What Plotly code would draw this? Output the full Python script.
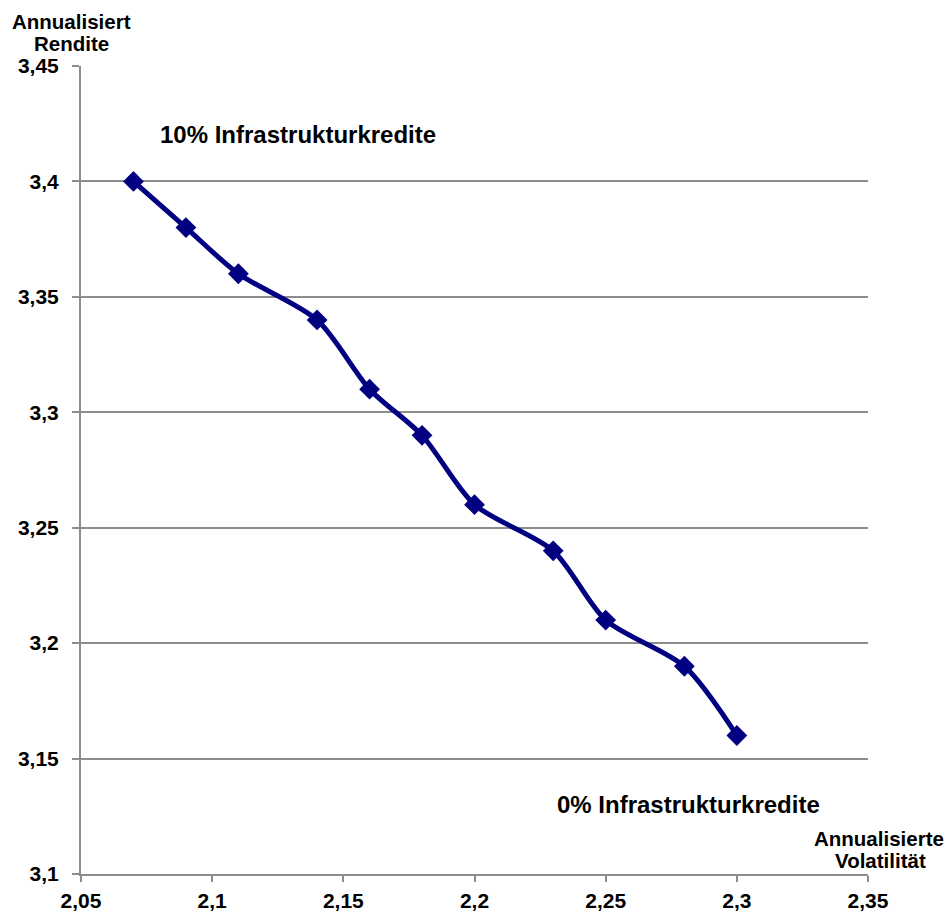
import plotly.graph_objects as go

# Efficient frontier: annualised volatility vs. annualised return
volatility = [2.07, 2.09, 2.11, 2.14, 2.16, 2.18, 2.20, 2.23, 2.25, 2.28, 2.30]
returns = [3.40, 3.38, 3.36, 3.34, 3.31, 3.29, 3.26, 3.24, 3.21, 3.19, 3.16]

x_ticks = [2.05, 2.10, 2.15, 2.20, 2.25, 2.30, 2.35]
x_tick_labels = ["2,05", "2,1", "2,15", "2,2", "2,25", "2,3", "2,35"]
y_ticks = [3.10, 3.15, 3.20, 3.25, 3.30, 3.35, 3.40, 3.45]
y_tick_labels = ["3,1", "3,15", "3,2", "3,25", "3,3", "3,35", "3,4", "3,45"]

FONT = "Arial, Liberation Sans, sans-serif"
NAVY = "#000080"
GRID = "#8c8c8c"

W, H = 949, 915
ML, MR, MT, MB = 81, 81, 66, 41

fig = go.Figure(
    go.Scatter(
        x=volatility,
        y=returns,
        mode="lines+markers",
        line=dict(color=NAVY, width=5, shape="spline", smoothing=0.8),
        marker=dict(symbol="diamond", size=16, color=NAVY),
        hoverinfo="x+y",
    )
)

tick_font = dict(size=21, weight=700, family=FONT, color="black")

fig.update_layout(
    width=W,
    height=H,
    margin=dict(l=ML, r=MR, t=MT, b=MB, autoexpand=False),
    paper_bgcolor="white",
    plot_bgcolor="white",
    showlegend=False,
    font=dict(family=FONT, color="black"),
    xaxis=dict(
        range=[2.05, 2.35],
        tickvals=x_ticks,
        ticktext=x_tick_labels,
        tickfont=tick_font,
        showgrid=False,
        zeroline=False,
        showline=True,
        linecolor=GRID,
        linewidth=2,
        ticks="outside",
        ticklen=6,
        tickwidth=2,
        tickcolor=GRID,
        ticklabelstandoff=1,
        automargin=False,
    ),
    yaxis=dict(
        range=[3.10, 3.45],
        tickvals=y_ticks,
        ticktext=y_tick_labels,
        tickfont=tick_font,
        showgrid=True,
        gridcolor=GRID,
        gridwidth=2,
        zeroline=False,
        showline=True,
        linecolor=GRID,
        linewidth=2,
        ticks="outside",
        ticklen=7,
        tickwidth=2,
        tickcolor=GRID,
        ticklabelstandoff=9,
        automargin=False,
    ),
)


def px_to_paper(px, py):
    """Convert a page pixel position to paper coordinates."""
    return (px - ML) / (W - ML - MR), 1 - (py - MT) / (H - MT - MB)


label_font = dict(size=24, weight=700, family=FONT, color="black")
title_font = dict(size=20.5, weight=700, family=FONT, color="black")

fig.add_annotation(
    text="10% Infrastrukturkredite",
    x=2.0795, y=3.4205, xref="x", yref="y",
    xanchor="left", yanchor="middle",
    showarrow=False, font=label_font,
)
fig.add_annotation(
    text="0% Infrastrukturkredite",
    x=2.2308, y=3.1300, xref="x", yref="y",
    xanchor="left", yanchor="middle",
    showarrow=False, font=label_font,
)

# Axis titles, one annotation per line for tight line spacing
axis_title_lines = [
    ("Annualisiert", 71, 21),
    ("Rendite", 71, 43),
    ("Annualisierte", 879, 838),
    ("Volatilität", 880, 860),
]
for text, px, py in axis_title_lines:
    tx, ty = px_to_paper(px, py)
    fig.add_annotation(
        text=text,
        x=tx, y=ty, xref="paper", yref="paper",
        xanchor="center", yanchor="middle",
        showarrow=False, font=title_font,
    )

fig.write_html("out.html")
